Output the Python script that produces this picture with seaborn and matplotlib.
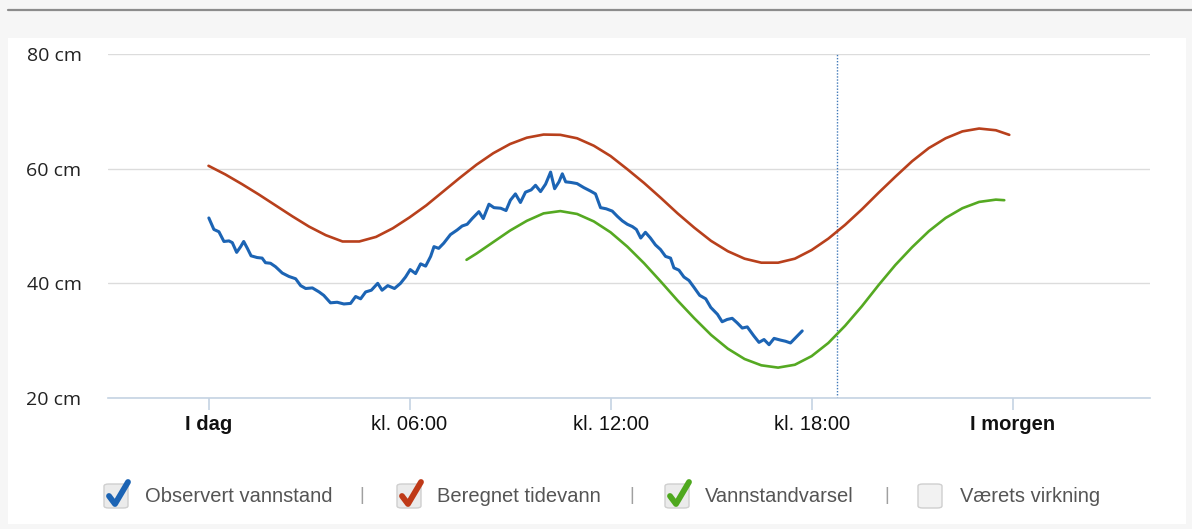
import matplotlib
matplotlib.use("Agg")
import matplotlib.pyplot as plt
import seaborn as sns
from matplotlib.patches import FancyBboxPatch, Rectangle
from matplotlib.lines import Line2D

# ---------------- data (hours since midnight "I dag", water level in cm) ----------------
obs_hours = [0.01, 0.16, 0.31, 0.46, 0.61, 0.71, 0.84, 0.96, 1.05, 1.16, 1.27, 1.45, 1.60, 1.70,
             1.85, 2.00, 2.20, 2.40, 2.60, 2.75, 2.90, 3.10, 3.30, 3.44, 3.64, 3.84, 4.04, 4.24,
             4.39, 4.54, 4.69, 4.86, 5.05, 5.18, 5.35, 5.55, 5.73, 5.88, 6.02, 6.18, 6.33, 6.48,
             6.63, 6.73, 6.87, 7.02, 7.22, 7.42, 7.57, 7.72, 7.87, 8.07, 8.20, 8.37, 8.52, 8.72,
             8.88, 9.01, 9.16, 9.31, 9.46, 9.63, 9.76, 9.91, 10.06, 10.21, 10.33, 10.46, 10.56,
             10.66, 10.81, 11.00, 11.20, 11.40, 11.55, 11.70, 11.87, 12.05, 12.20, 12.35, 12.50,
             12.65, 12.77, 12.90, 13.04, 13.19, 13.34, 13.49, 13.64, 13.79, 13.89, 14.04, 14.19,
             14.34, 14.49, 14.66, 14.84, 14.99, 15.19, 15.33, 15.48, 15.63, 15.78, 15.93, 16.08,
             16.28, 16.43, 16.58, 16.73, 16.88, 17.07, 17.22, 17.37, 17.52, 17.72]
obs_cm = [51.4, 49.4, 49.0, 47.3, 47.4, 47.1, 45.4, 46.4, 47.3, 46.1, 44.8, 44.5, 44.4, 43.6,
          43.5, 42.9, 41.8, 41.2, 40.8, 39.6, 39.1, 39.2, 38.5, 37.9, 36.6, 36.7, 36.4, 36.5,
          37.7, 37.3, 38.5, 38.8, 40.0, 38.8, 39.6, 39.1, 40.0, 41.1, 42.4, 41.7, 43.4, 43.0,
          44.7, 46.4, 46.1, 47.0, 48.5, 49.3, 50.0, 50.3, 51.3, 52.5, 51.3, 53.8, 53.2, 53.1,
          52.7, 54.5, 55.6, 54.1, 55.9, 56.3, 57.1, 56.0, 57.3, 59.4, 56.5, 57.7, 59.1,
          57.7, 57.6, 57.4, 56.7, 56.1, 55.6, 53.2, 53.0, 52.6, 51.7, 50.9, 50.3,
          49.9, 49.4, 47.9, 48.9, 47.9, 46.7, 45.9, 44.7, 44.4, 42.7, 42.3, 41.1,
          40.5, 39.3, 37.9, 37.3, 35.8, 34.6, 33.3, 33.7, 33.9, 33.1, 32.2, 32.4,
          30.8, 29.7, 30.2, 29.3, 30.4, 30.1, 29.9, 29.6, 30.5, 31.7]

tide_hours = [0.0, 0.5, 1.0, 1.5, 2.0, 2.5, 3.0, 3.5, 4.0, 4.5, 5.0, 5.5, 6.0, 6.5, 7.0, 7.5,
              8.0, 8.5, 9.0, 9.5, 10.0, 10.5, 11.0, 11.5, 12.0, 12.5, 13.0, 13.5, 14.0, 14.5,
              15.0, 15.5, 16.0, 16.5, 17.0, 17.5, 18.0, 18.5, 19.0, 19.5, 20.0, 20.5, 21.0,
              21.5, 22.0, 22.5, 23.0, 23.5, 23.9]
tide_cm = [60.5, 59.0, 57.3, 55.5, 53.6, 51.7, 49.9, 48.4, 47.3, 47.3, 48.1, 49.6, 51.5, 53.6,
           56.0, 58.4, 60.7, 62.7, 64.3, 65.4, 65.95, 65.9, 65.3, 64.0, 62.2, 59.9, 57.5, 54.9,
           52.2, 49.7, 47.4, 45.6, 44.3, 43.6, 43.6, 44.3, 45.8, 47.8, 50.2, 52.9, 55.8, 58.6,
           61.3, 63.6, 65.3, 66.5, 67.0, 66.7, 65.9]

fc_hours = [7.7, 8.0, 8.5, 9.0, 9.5, 10.0, 10.5, 11.0, 11.5, 12.0, 12.5, 13.0, 13.5, 14.0, 14.5,
            15.0, 15.5, 16.0, 16.5, 17.0, 17.5, 18.0, 18.5, 19.0, 19.5, 20.0, 20.5, 21.0, 21.5,
            22.0, 22.5, 23.0, 23.5, 23.75]
fc_cm = [44.1, 45.2, 47.2, 49.2, 50.9, 52.2, 52.6, 52.1, 50.8, 48.9, 46.4, 43.5, 40.3, 37.0, 33.9,
         31.0, 28.6, 26.8, 25.7, 25.3, 25.8, 27.3, 29.6, 32.6, 36.0, 39.7, 43.2, 46.3, 49.1,
         51.4, 53.1, 54.2, 54.6, 54.5]

now_hour = 18.77

x_ticks = [0, 6, 12, 18, 24]
x_labels = ["I dag", "kl. 06:00", "kl. 12:00", "kl. 18:00", "I morgen"]
bold_labels = ["I dag", "I morgen"]
y_ticks = [20, 40, 60, 80]
y_labels = ["20 cm", "40 cm", "60 cm", "80 cm"]

legend_names = ["Observert vannstand", "Beregnet tidevann", "Vannstandvarsel", "Værets virkning"]
legend_colors = ["#1c64b4", "#bf3a18", "#4ea81e", None]

c_obs, c_tide, c_fc = "#1c64b4", "#b8401c", "#55a922"

# ---------------- figure ----------------
W, H = 1192, 529
sns.set_style("white")
plt.rcParams['font.family'] = ['Liberation Sans', 'DejaVu Sans']

fig = plt.figure(figsize=(W / 100, H / 100), dpi=100, facecolor='#f6f6f6')


def fx(x):
    return x / W


def fy(y):
    return 1 - y / H


fig.patches.append(Rectangle((fx(8), fy(524)), fx(1186 - 8), (524 - 38) / H,
                             transform=fig.transFigure, facecolor='white',
                             edgecolor='none', zorder=-10))
fig.add_artist(Line2D([fx(8), 1.0], [fy(9.5), fy(9.5)], color='#8c8c8c', lw=1.6))

ax = fig.add_axes([fx(108), fy(398), fx(1150 - 108), (398 - 54) / H])
ax.set_zorder(1)
ax.set_facecolor('white')

sns.lineplot(x=tide_hours, y=tide_cm, ax=ax, color=c_tide, lw=1.9, estimator=None, zorder=3)
sns.lineplot(x=fc_hours, y=fc_cm, ax=ax, color=c_fc, lw=1.9, estimator=None, zorder=3)
sns.lineplot(x=obs_hours, y=obs_cm, ax=ax, color=c_obs, lw=2.2, estimator=None, zorder=4)

ax.axvline(now_hour, color='#3f78b8', lw=1.0, ls=(0, (1, 1.2)), zorder=2)

ax.set_xlim(-3, 28.1)
ax.set_ylim(20, 80)
ax.set_xticks(x_ticks)
ax.set_xticklabels(x_labels)
ax.set_yticks(y_ticks)
ax.set_yticklabels(y_labels)
ax.grid(axis='y', color='#dcdcdc', lw=1.0)
ax.grid(axis='x', visible=False)
ax.set_axisbelow(True)
for s in ['left', 'top', 'right']:
    ax.spines[s].set_visible(False)
ax.spines['bottom'].set_color('#c5d3e3')
ax.spines['bottom'].set_linewidth(1.2)
ax.tick_params(axis='x', length=8.5, width=1.2, color='#c5d3e3', pad=4,
               labelsize=14.5, labelcolor='#111111', direction='out', bottom=True)
ax.tick_params(axis='y', length=0, pad=19, labelsize=14, labelcolor='#222222', left=True)
for lbl in ax.get_yticklabels():
    lbl.set_family(['Open Sans', 'DejaVu Sans'])
for lbl in ax.get_xticklabels():
    if lbl.get_text() in bold_labels:
        lbl.set_fontweight('bold')
ax.set_xlabel("")
ax.set_ylabel("")

# ---------------- custom legend (checkbox style) ----------------
box_x = [104, 397, 665, 918]
text_x = [145, 437, 705, 960]
sep_x = [362, 632, 887]
ly = 496
bs = 24
for bx, tx, name, col in zip(box_x, text_x, legend_names, legend_colors):
    by = ly - bs / 2
    fig.patches.append(FancyBboxPatch((fx(bx), fy(by + bs)), bs / W, bs / H,
                                      boxstyle="round,pad=0,rounding_size=0.004",
                                      transform=fig.transFigure,
                                      facecolor='#ebebeb' if col else '#f2f2f2',
                                      edgecolor='#cfcfcf', lw=1.0, zorder=5))
    if col:
        xs = [bx + 5, bx + 11, bx + 24]
        ys = [by + 12, by + 20, by - 2]
        fig.add_artist(Line2D([fx(v) for v in xs], [fy(v) for v in ys], color=col, lw=4.2,
                              solid_capstyle='round', solid_joinstyle='round', zorder=6))
    fig.text(fx(tx), fy(ly), name, fontsize=14.5, color='#555555', ha='left', va='center')
for sx in sep_x:
    fig.text(fx(sx), fy(ly - 1), "|", fontsize=13, color='#a0a0a0', ha='center', va='center')

fig.savefig("out.png", dpi=100, facecolor=fig.get_facecolor())
